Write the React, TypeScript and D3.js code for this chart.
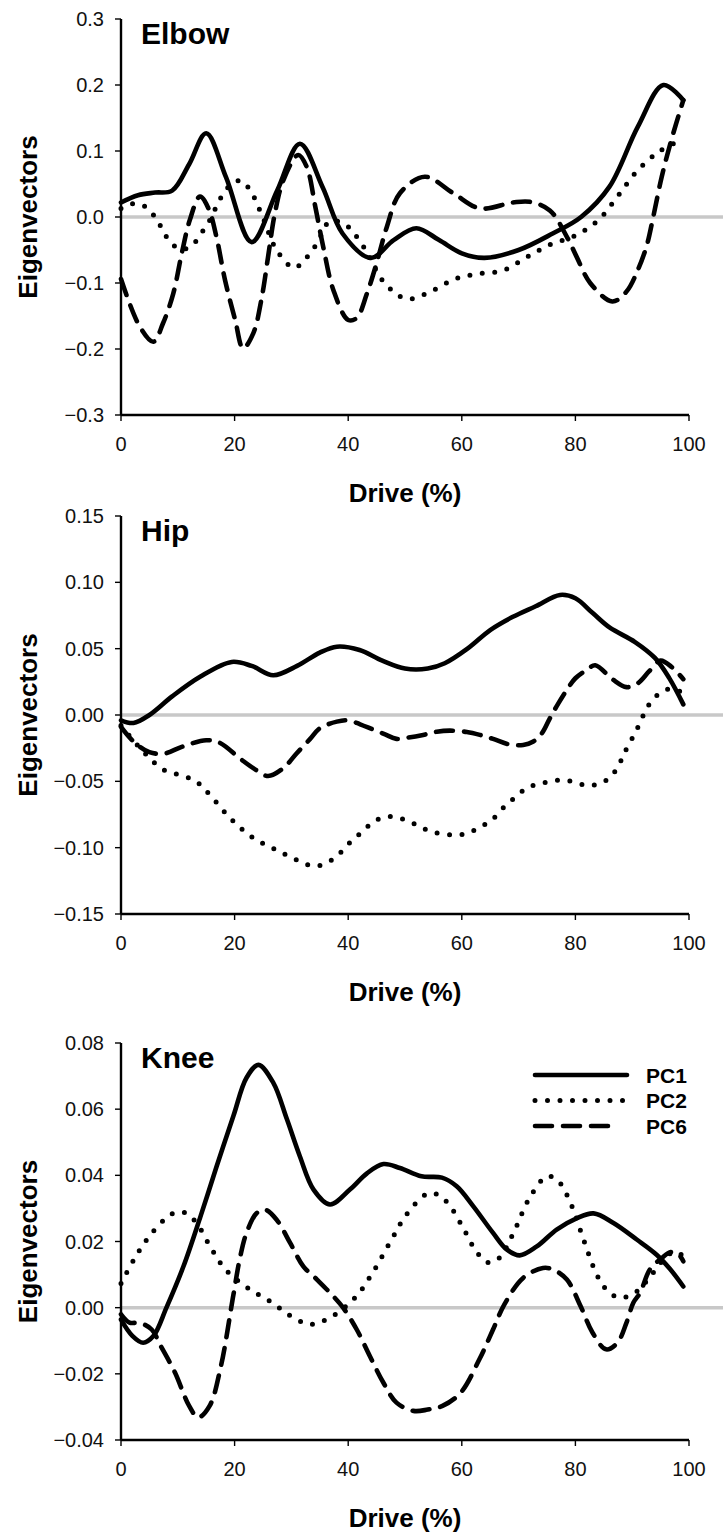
import React from 'react';
import * as d3 from 'd3';

// ---------- shared ----------
const DRIVE_TICKS = [0, 20, 40, 60, 80, 100];
const SERIES_NAMES = ['PC1', 'PC2', 'PC6'];
const X_LABEL = 'Drive (%)';
const Y_LABEL = 'Eigenvectors';

// ---------- Elbow ----------
const ELBOW_TICKS = [-0.3, -0.2, -0.1, 0, 0.1, 0.2, 0.3];
const ELBOW_PC1_X = [0, 3, 6, 9, 12, 15, 18.5, 23, 27.5, 31.5, 35.5, 39, 44, 48, 52, 56, 60, 64, 70, 76, 81, 86, 91, 95.5, 99];
const ELBOW_PC1_Y = [0.022, 0.033, 0.037, 0.04, 0.08, 0.127, 0.06, -0.038, 0.04, 0.111, 0.045, -0.025, -0.062, -0.035, -0.017, -0.035, -0.055, -0.062, -0.05, -0.025, 0.0, 0.046, 0.137, 0.2, 0.177];
const ELBOW_PC2_X = [0, 2, 4, 6, 8.5, 10.5, 12.5, 14, 15.5, 17.5, 19, 21, 22.7, 24.8, 27.4, 30.5, 32.6, 34.5, 36.7, 39.4, 42.7, 46.3, 50.3, 54.7, 58.8, 62.9, 67.3, 71.4, 75.5, 80, 84, 87.5, 90.7, 94.7, 99];
const ELBOW_PC2_Y = [0.013, 0.02, 0.017, 0, -0.036, -0.049, -0.043, -0.026, -0.007, 0.028, 0.046, 0.055, 0.041, 0.003, -0.05, -0.077, -0.062, -0.04, -0.007, -0.011, -0.045, -0.099, -0.124, -0.112, -0.094, -0.086, -0.081, -0.061, -0.042, -0.028, -0.005, 0.032, 0.068, 0.099, 0.118];
const ELBOW_PC6_X = [0, 3.3, 5.7, 7.4, 9.2, 10.7, 12.1, 13.9, 15.4, 16.8, 18.3, 20.1, 21.5, 23.3, 24.8, 25.9, 27.1, 28.6, 31.2, 32.7, 34.2, 35.6, 37.4, 40, 41.5, 43.3, 45, 46.8, 49.1, 53.5, 58.5, 63.2, 69, 72, 75.5, 78.5, 80.2, 82.6, 86.5, 89, 91.1, 92.6, 93.7, 95.2, 96.9, 99];
const ELBOW_PC6_Y = [-0.094, -0.166, -0.189, -0.161, -0.116, -0.055, -0.005, 0.031, 0.013, -0.03, -0.095, -0.156, -0.199, -0.176, -0.121, -0.06, 0.006, 0.056, 0.094, 0.076, 0.016, -0.045, -0.111, -0.156, -0.153, -0.116, -0.07, -0.015, 0.036, 0.061, 0.036, 0.013, 0.022, 0.023, 0.01, -0.03, -0.06, -0.1, -0.128, -0.113, -0.078, -0.042, 0, 0.061, 0.117, 0.177];

// ---------- Hip ----------
const HIP_TICKS = [-0.15, -0.1, -0.05, 0, 0.05, 0.1, 0.15];
const HIP_PC1_X = [0, 2.2, 5, 9, 14, 19.5, 23, 26.8, 31, 35, 38, 42, 46, 50, 54, 57, 61, 65, 69, 73, 77.3, 80, 83, 86, 90.5, 94, 96.5, 99];
const HIP_PC1_Y = [-0.004, -0.006, 0, 0.014, 0.029, 0.04, 0.037, 0.03, 0.037, 0.047, 0.0515, 0.049, 0.041, 0.035, 0.035, 0.039, 0.05, 0.064, 0.074, 0.082, 0.0905, 0.088, 0.077, 0.066, 0.055, 0.043, 0.028, 0.008];
const HIP_PC2_X = [0, 3.6, 7.4, 11.7, 13.8, 15.8, 19.3, 23.4, 27.5, 31.8, 33.9, 35.9, 38.1, 40.1, 42.2, 44.3, 46.3, 48.4, 50.6, 54.7, 58.9, 61, 63, 65.3, 67.3, 69.4, 71.5, 73.6, 77.8, 82, 84, 86.1, 87.6, 88.7, 90.8, 92.9, 94.7, 96.9, 98.7];
const HIP_PC2_Y = [-0.008, -0.026, -0.041, -0.047, -0.052, -0.061, -0.078, -0.093, -0.102, -0.111, -0.114, -0.112, -0.106, -0.097, -0.089, -0.081, -0.077, -0.077, -0.08, -0.088, -0.0905, -0.089, -0.085, -0.079, -0.07, -0.062, -0.055, -0.052, -0.049, -0.053, -0.052, -0.047, -0.038, -0.028, -0.011, 0.0075, 0.016, 0.02, 0.017];
const HIP_PC6_X = [0, 2.2, 5, 7.7, 10.7, 15, 17.4, 21, 23.6, 25.9, 28.6, 30.9, 33.3, 35, 38, 40, 42.1, 44.4, 46.5, 48.5, 50.6, 53.2, 55.6, 57.9, 60.9, 63.2, 65.5, 68.2, 70.8, 72.6, 74.1, 75.5, 77, 78.5, 80, 82, 83.5, 86.5, 89, 91, 93, 95, 97, 99];
const HIP_PC6_Y = [-0.009, -0.02, -0.028, -0.029, -0.024, -0.019, -0.021, -0.033, -0.041, -0.046, -0.04, -0.029, -0.018, -0.01, -0.005, -0.004, -0.007, -0.011, -0.0146, -0.018, -0.017, -0.015, -0.0126, -0.0118, -0.0128, -0.015, -0.018, -0.022, -0.0226, -0.02, -0.0138, -0.0025, 0.0088, 0.019, 0.0277, 0.034, 0.0375, 0.027, 0.021, 0.024, 0.033, 0.041, 0.036, 0.027];

// ---------- Knee ----------
const KNEE_TICKS = [-0.04, -0.02, 0, 0.02, 0.04, 0.06, 0.08];
const KNEE_PC1_X = [0, 2, 3.9, 5.7, 8, 11, 14, 16.8, 19.8, 22.1, 24.2, 26.8, 29.2, 31.5, 33.9, 36.8, 40.3, 43.3, 46.2, 49.1, 52.9, 56.5, 59.1, 62, 65.5, 67.9, 70.2, 73.2, 76.7, 80.2, 83.2, 86.7, 90.8, 94.3, 96.7, 99];
const KNEE_PC1_Y = [-0.0036, -0.0085, -0.0106, -0.0086, 0, 0.0125, 0.0276, 0.0425, 0.058, 0.0695, 0.0734, 0.068, 0.057, 0.0457, 0.0357, 0.0312, 0.0357, 0.0406, 0.0434, 0.0422, 0.0397, 0.0393, 0.0367, 0.0307, 0.0226, 0.0176, 0.0158, 0.0185, 0.0236, 0.027, 0.0285, 0.0256, 0.0206, 0.016, 0.0116, 0.0064];
const KNEE_PC2_X = [0, 2.2, 5, 9, 11.1, 13.2, 15.7, 18.4, 22.3, 26.6, 30.8, 33.5, 37, 41.2, 44.1, 47.7, 50.2, 53.9, 56, 57.9, 60.4, 62.7, 64.7, 66.6, 69.1, 71.9, 75, 77, 79.3, 81.5, 83.9, 86, 88, 90.5, 93, 95.5, 97.5, 99];
const KNEE_PC2_Y = [0.0073, 0.0143, 0.0216, 0.0284, 0.0288, 0.0258, 0.0185, 0.0115, 0.006, 0.0015, -0.0035, -0.005, -0.0028, 0.003, 0.01, 0.0208, 0.028, 0.0344, 0.034, 0.0308, 0.0236, 0.0166, 0.0136, 0.015, 0.0226, 0.0331, 0.0397, 0.0382, 0.031, 0.0203, 0.0095, 0.0045, 0.003, 0.0045, 0.009, 0.0145, 0.017, 0.0155];
const KNEE_PC6_X = [0, 1.5, 3.3, 5.4, 7, 9.5, 12, 13.6, 15.6, 17.6, 19.7, 21, 22.1, 23.9, 25.4, 27.4, 29.8, 32.1, 34.5, 36.8, 39.1, 41.5, 43.8, 46.2, 48.5, 51.5, 54, 56.6, 59.8, 63.1, 65.5, 67.5, 70.8, 74.3, 76.1, 78.5, 80.9, 83, 85.4, 87.4, 89, 90.2, 91.4, 93.1, 95.2, 96.8, 98.2, 99];
const KNEE_PC6_Y = [-0.002, -0.0045, -0.0046, -0.0066, -0.0116, -0.0196, -0.0297, -0.0332, -0.0297, -0.0176, 0.003, 0.0155, 0.0226, 0.0286, 0.0296, 0.0266, 0.0195, 0.0125, 0.0085, 0.0045, 0, -0.0066, -0.0146, -0.0227, -0.0287, -0.0312, -0.0308, -0.0297, -0.0257, -0.0156, -0.0066, 0.001, 0.009, 0.012, 0.0115, 0.0085, 0.0005, -0.0075, -0.0126, -0.0106, -0.0045, 0.0015, 0.0045, 0.0115, 0.015, 0.0168, 0.016, 0.014];

// ---------- layout / style ----------
const W = 723;
const H = 1537;
const X_LEFT = 121;
const X_RIGHT = 689;
const FONT = '"Liberation Sans", Arial, Helvetica, sans-serif';

const DASH: Record<string, string> = {
  PC1: 'none',
  PC2: '0 12.5',
  PC6: '17 11',
};
const WIDTH: Record<string, number> = { PC1: 4.6, PC2: 5, PC6: 4.6 };

type Pt = [number, number];
const zip = (xs: number[], ys: number[]): Pt[] => xs.map((v, i) => [v, ys[i]] as Pt);

interface PanelProps {
  title: string;
  top: number;
  bottom: number;
  ticks: number[];
  fmt: (n: number) => string;
  series: Pt[][];
  legend?: boolean;
}

function Panel({ title, top, bottom, ticks, fmt, series, legend }: PanelProps) {
  const x = d3.scaleLinear().domain([0, 100]).range([X_LEFT, X_RIGHT]);
  const y = d3
    .scaleLinear()
    .domain([ticks[0], ticks[ticks.length - 1]])
    .range([bottom, top]);
  const line = d3
    .line<Pt>()
    .x((d) => x(d[0]))
    .y((d) => y(d[1]))
    .curve(d3.curveCatmullRom.alpha(0.5));

  const midY = (top + bottom) / 2;
  const legX0 = 535;
  const legX1 = 627;
  const legY0 = 1075;
  const legStep = 25.5;

  return (
    <g>
      {/* zero reference line */}
      <line x1={x(0)} x2={W} y1={y(0)} y2={y(0)} stroke="#c8c8c8" strokeWidth={3.5} />

      {/* series */}
      {series.map((pts, i) => (
        <path
          key={SERIES_NAMES[i]}
          d={line(pts) || ''}
          fill="none"
          stroke="#000"
          strokeWidth={WIDTH[SERIES_NAMES[i]]}
          strokeDasharray={DASH[SERIES_NAMES[i]]}
          strokeLinecap="round"
          strokeLinejoin="round"
        />
      ))}

      {/* y axis */}
      <line x1={X_LEFT} x2={X_LEFT} y1={y(ticks[ticks.length - 1])} y2={y(ticks[0])} stroke="#000" strokeWidth={2.4} />
      {ticks.map((t) => (
        <g key={'yt' + t}>
          <line x1={X_LEFT - 6} x2={X_LEFT} y1={y(t)} y2={y(t)} stroke="#000" strokeWidth={1.4} />
          <text x={104} y={y(t) + 7} textAnchor="end" fontSize={20} fontFamily={FONT} fill="#111">
            {fmt(t)}
          </text>
        </g>
      ))}

      {/* x axis */}
      <line x1={X_LEFT} x2={X_RIGHT} y1={y(ticks[0])} y2={y(ticks[0])} stroke="#000" strokeWidth={2.4} />
      {DRIVE_TICKS.map((t) => (
        <g key={'xt' + t}>
          <line x1={x(t)} x2={x(t)} y1={y(ticks[0])} y2={y(ticks[0]) + 6} stroke="#000" strokeWidth={1.4} />
          <text x={x(t)} y={y(ticks[0]) + 36} textAnchor="middle" fontSize={20} fontFamily={FONT} fill="#111">
            {t}
          </text>
        </g>
      ))}

      {/* labels */}
      <text
        x={(X_LEFT + X_RIGHT) / 2}
        y={y(ticks[0]) + 87}
        textAnchor="middle"
        fontSize={26}
        fontWeight="bold"
        fontFamily={FONT}
        fill="#000"
      >
        {X_LABEL}
      </text>
      <text
        transform={`translate(37,${midY}) rotate(-90)`}
        textAnchor="middle"
        fontSize={26}
        fontWeight="bold"
        fontFamily={FONT}
        fill="#000"
      >
        {Y_LABEL}
      </text>
      <text x={141} y={top + 24.5} fontSize={30} fontWeight="bold" fontFamily={FONT} fill="#000">
        {title}
      </text>

      {legend &&
        SERIES_NAMES.map((name, i) => (
          <g key={'leg' + name}>
            <line
              x1={legX0}
              x2={name === 'PC6' ? legX1 - 12 : name === 'PC2' ? legX1 - 4 : legX1}
              y1={legY0 + i * legStep}
              y2={legY0 + i * legStep}
              stroke="#000"
              strokeWidth={WIDTH[name]}
              strokeDasharray={DASH[name]}
              strokeLinecap="round"
            />
            <text
              x={646}
              y={legY0 + i * legStep + 7.5}
              fontSize={21}
              fontWeight="bold"
              fontFamily={FONT}
              fill="#000"
            >
              {name}
            </text>
          </g>
        ))}
    </g>
  );
}

export default function App() {
  const f1 = d3.format('.1f');
  const f2 = d3.format('.2f');
  return (
    <svg
      width={W}
      height={H}
      viewBox={`0 0 ${W} ${H}`}
      style={{ position: 'absolute', left: 0, top: 0, background: '#fff' }}
    >
      <rect x={0} y={0} width={W} height={H} fill="#fff" />
      <Panel
        title="Elbow"
        top={19}
        bottom={415}
        ticks={ELBOW_TICKS}
        fmt={f1}
        series={[zip(ELBOW_PC1_X, ELBOW_PC1_Y), zip(ELBOW_PC2_X, ELBOW_PC2_Y), zip(ELBOW_PC6_X, ELBOW_PC6_Y)]}
      />
      <Panel
        title="Hip"
        top={516}
        bottom={914}
        ticks={HIP_TICKS}
        fmt={f2}
        series={[zip(HIP_PC1_X, HIP_PC1_Y), zip(HIP_PC2_X, HIP_PC2_Y), zip(HIP_PC6_X, HIP_PC6_Y)]}
      />
      <Panel
        title="Knee"
        top={1043}
        bottom={1440}
        ticks={KNEE_TICKS}
        fmt={f2}
        series={[zip(KNEE_PC1_X, KNEE_PC1_Y), zip(KNEE_PC2_X, KNEE_PC2_Y), zip(KNEE_PC6_X, KNEE_PC6_Y)]}
        legend
      />
    </svg>
  );
}
